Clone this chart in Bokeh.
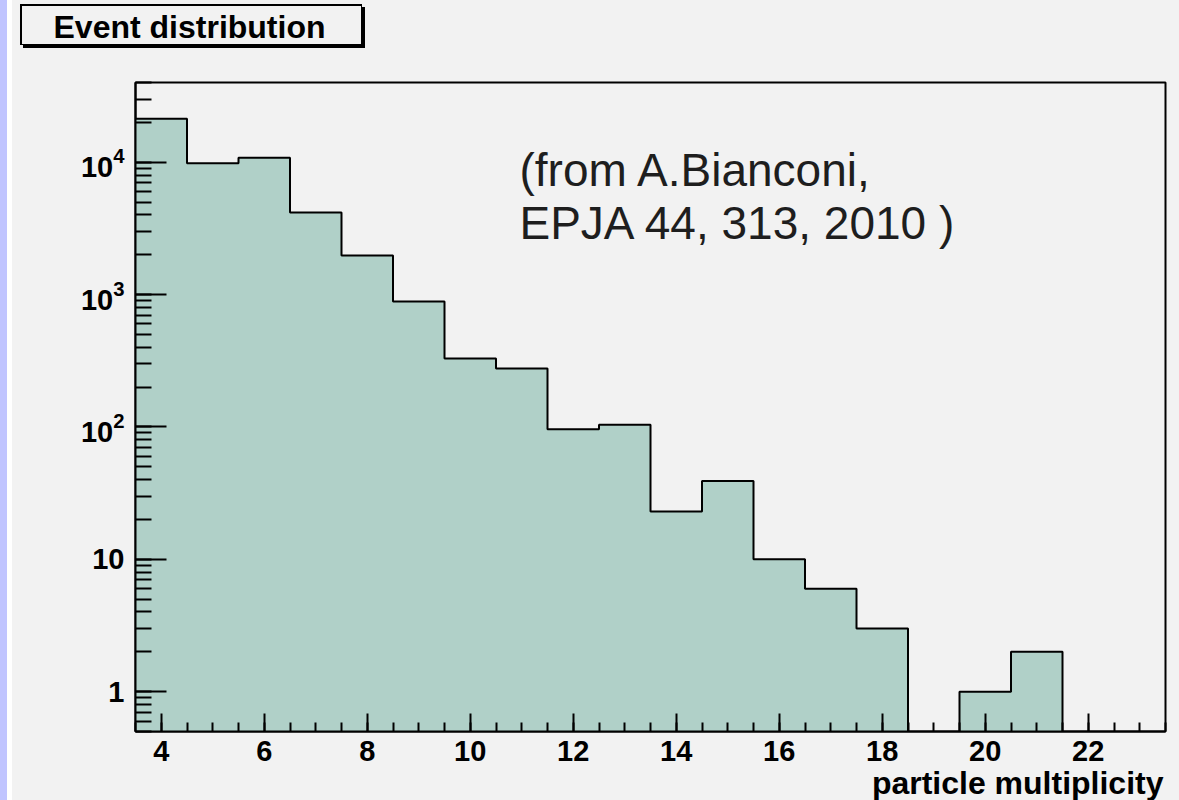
import numpy as np
from bokeh.plotting import figure
from bokeh.models import (Range1d, SingleIntervalTicker, LogTicker, LogTickFormatter,
                          Label, Title)
from bokeh.embed import file_html
from bokeh.resources import INLINE

# ---- data ----
multiplicity = list(range(4, 24))
counts = [21300, 9830, 10800, 4170, 1970, 885, 329, 276, 96, 104,
          23, 39, 10, 6, 3, 0, 1, 2, 0, 0]
bin_width = 1.0
x_tick_interval = 2
title_text = "Event distribution"
x_label = "particle multiplicity"
note_lines = ["(from A.Bianconi,", "EPJA 44, 313, 2010 )"]

# ---- style ----
BG = "#f2f2f2"
FILL = "#b0d0c8"
FONT = "Liberation Sans"
Y_MIN, Y_MAX = 0.5, 4.0e4
FLOOR = 0.05  # drawing floor for empty bins on the log axis (below range)

p = figure(width=1179, height=800, y_axis_type="log",
           x_range=Range1d(3.5, 23.5), y_range=Range1d(Y_MIN, Y_MAX),
           output_backend="svg", toolbar_location=None,
           min_border_left=135, min_border_right=14,
           min_border_top=82, min_border_bottom=69,
           background_fill_color=BG, border_fill_color=None)
p.grid.visible = False
p.outline_line_color = "black"
p.outline_line_width = 2

# page decorations behind the (transparent) canvas border: side strips and
# the title box with its drop shadow
p.styles = {
    "background": (
        "linear-gradient(#f2f2f2,#f2f2f2) 21.5px 5.5px / 339px 38px no-repeat, "
        "linear-gradient(#000,#000) 20px 4px / 342px 41px no-repeat, "
        "linear-gradient(#000,#000) 23px 7px / 342px 41px no-repeat, "
        "linear-gradient(#fff,#fff) 7px 0 / 5px 100% no-repeat, "
        "linear-gradient(#c0c4ff,#c0c4ff) 0 0 / 7px 100% no-repeat, "
        "#f2f2f2"
    )
}

x = np.array(multiplicity, dtype=float)
c = np.array(counts, dtype=float)
left = x - bin_width / 2
right = x + bin_width / 2

# histogram as a step: fill under it, then the outline
h = np.where(c > 0, c, FLOOR)
xs = np.column_stack([left, right]).ravel()
ys = np.column_stack([h, h]).ravel()
p.varea(x=xs, y1=FLOOR, y2=ys, fill_color=FILL)
p.line(xs, ys, line_color="black", line_width=2)

# ---- axes ----
xa = p.xaxis[0]
xa.ticker = SingleIntervalTicker(interval=x_tick_interval, num_minor_ticks=4)
xa.major_tick_in = 18
xa.major_tick_out = 0
xa.minor_tick_in = 9
xa.minor_tick_out = 0
xa.axis_line_width = 2
xa.major_tick_line_width = 2
xa.minor_tick_line_width = 2
xa.major_label_text_font = FONT
xa.major_label_text_font_style = "bold"
xa.major_label_text_font_size = "29px"
xa.major_label_text_color = "black"
xa.major_label_standoff = 9

ya = p.yaxis[0]
ya.ticker = LogTicker(num_minor_ticks=10)
ya.formatter = LogTickFormatter(min_exponent=2)
ya.major_tick_in = 31
ya.major_tick_out = 0
ya.minor_tick_in = 16
ya.minor_tick_out = 0
ya.axis_line_width = 2
ya.major_tick_line_width = 2
ya.minor_tick_line_width = 2
ya.major_label_text_font = FONT
ya.major_label_text_font_style = "bold"
ya.major_label_text_font_size = "29px"
ya.major_label_text_color = "black"
ya.major_label_standoff = 11

# ---- titles ----
# spacer between the frame and the title (titles stack outward)
p.add_layout(Title(text=" ", standoff=3, text_font=FONT, text_font_size="30px"), "above")
p.add_layout(Title(text=title_text, align="left", offset=-82, standoff=0,
                   text_font=FONT, text_font_style="bold", text_font_size="32px",
                   text_color="black"), "above")
p.add_layout(Title(text=x_label, align="right", offset=2, standoff=-2,
                   text_font=FONT, text_font_style="bold", text_font_size="32px",
                   text_color="black"), "below")

# citation note inside the frame
for i, line in enumerate(note_lines):
    p.add_layout(Label(x=384, y=562 - 53 * i, x_units="screen", y_units="screen",
                       text=line, text_align="left", text_baseline="alphabetic",
                       text_font=FONT, text_font_size="46px",
                       text_color="#1e1e1e"))

open("out.html", "w").write(file_html(p, INLINE))
